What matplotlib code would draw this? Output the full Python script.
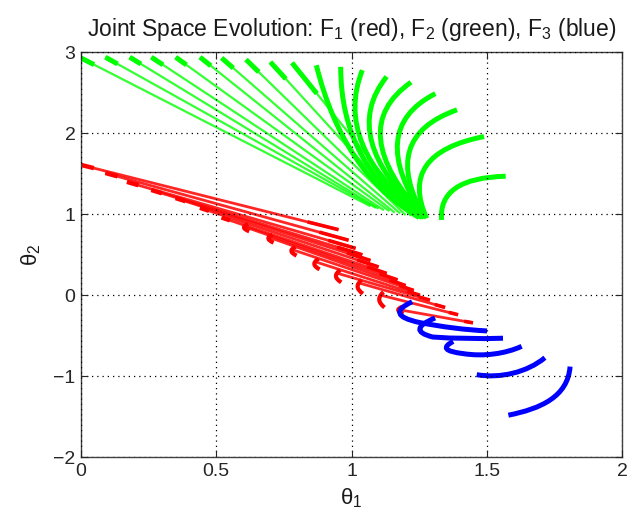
import matplotlib
matplotlib.use("Agg")
import matplotlib.pyplot as plt
from matplotlib.path import Path
from matplotlib.patches import PathPatch

plt.rcParams['font.family'] = ['Liberation Sans', 'DejaVu Sans']
plt.rcParams['mathtext.fontset'] = 'custom'
plt.rcParams['mathtext.rm'] = 'Liberation Sans'
plt.rcParams['mathtext.it'] = 'Liberation Sans:italic'

# ---------------- F2 (green) trajectories ----------------
# start points of every trajectory (top row)
green_start_x = [0.00, 0.09, 0.18, 0.26, 0.35, 0.44, 0.52, 0.61, 0.70, 0.78,
                 0.87, 0.96, 1.04, 1.13, 1.22, 1.31, 1.39, 1.49, 1.57]
green_start_y = [2.93, 2.94, 2.94, 2.94, 2.94, 2.94, 2.93, 2.91, 2.88, 2.87,
                 2.84, 2.82, 2.78, 2.70, 2.63, 2.49, 2.29, 1.96, 1.47]
# end points of the fast (straight) trajectories, first ten starts
green_line_end_x = [1.07, 1.09, 1.10, 1.12, 1.14, 1.16, 1.18, 1.20, 1.22, 1.24]
green_line_end_y = [1.10, 1.08, 1.07, 1.05, 1.04, 1.02, 1.01, 0.99, 0.98, 0.97]
# share of each straight trajectory that is densely sampled
green_dense_share = [0.045, 0.045, 0.045, 0.05, 0.05, 0.055, 0.065, 0.08, 0.11, 0.2]
# curved trajectories (remaining starts): control and end points
green_arc_ctrl_x = [0.97, 0.96, 0.93, 0.95, 0.97, 1.05, 1.10, 1.17, 1.32]
green_arc_ctrl_y = [1.50, 1.60, 1.85, 1.95, 2.05, 2.05, 1.95, 1.75, 1.45]
green_arc_end_x = [1.25, 1.26, 1.265, 1.27, 1.27, 1.27, 1.27, 1.278, 1.333]
green_arc_end_y = [0.96, 0.96, 0.96, 0.96, 0.96, 0.96, 0.96, 0.95, 0.93]

# ---------------- F1 (red) trajectories ----------------
red_start_x = [0.00, 0.09, 0.17, 0.26, 0.35, 0.44, 0.52, 0.61, 0.70, 0.785,
               0.87, 0.95, 1.03, 1.11, 1.18]
red_start_y = [1.61, 1.51, 1.40, 1.30, 1.20, 1.08, 0.96, 0.84, 0.71, 0.56,
               0.41, 0.27, 0.15, 0.00, -0.18]
red_end_x = [0.952, 0.989, 1.015, 1.04, 1.07, 1.10, 1.13, 1.17, 1.20, 1.23,
             1.253, 1.29, 1.346, 1.394, 1.449]
red_end_y = [0.81, 0.68, 0.58, 0.50, 0.43, 0.35, 0.27, 0.19, 0.12, 0.06,
             0.00, -0.06, -0.15, -0.24, -0.34]
# depth of the hook at the start of the later trajectories
red_hook_depth = [0, 0, 0, 0, 0, 0, 0, 0.09, 0.10, 0.11, 0.13, 0.15, 0.17, 0.19, 0.09]

# ---------------- F3 (blue) trajectories ----------------
# each one a chain of Bezier pieces: vertices and path codes
M, C3, C4 = Path.MOVETO, Path.CURVE3, Path.CURVE4
blue_curves = [
    ([(1.224, -0.08), (1.12, -0.24), (1.25, -0.335), (1.38, -0.42), (1.501, -0.44)],
     [M, C3, C3, C3, C3]),
    ([(1.309, -0.28), (1.20, -0.43), (1.30, -0.515), (1.42, -0.545), (1.56, -0.53)],
     [M, C3, C3, C3, C3]),
    ([(1.376, -0.57), (1.31, -0.68), (1.413, -0.72), (1.49, -0.76), (1.57, -0.72), (1.629, -0.63)],
     [M, C3, C3, C4, C4, C4]),
    ([(1.463, -0.98), (1.55, -1.03), (1.65, -0.95), (1.715, -0.77)],
     [M, C4, C4, C4]),
    ([(1.58, -1.48), (1.70, -1.40), (1.80, -1.25), (1.808, -0.88)],
     [M, C4, C4, C4]),
]

RED, GREEN, BLUE = (1.0, 0.0, 0.0), (0.0, 1.0, 0.0), (0.0, 0.0, 1.0)
THICK = 3.6

fig = plt.figure(figsize=(6.31, 5.21), dpi=100)
ax = fig.add_axes([81 / 631, 1 - 457.3 / 521, (622 - 81) / 631, (457.3 - 52.3) / 521])


def curve(verts, codes, color, lw):
    ax.add_patch(PathPatch(Path(verts, codes), fill=False, edgecolor=color,
                           lw=lw, capstyle='butt', joinstyle='round', zorder=2))


def partial(p, q, share):
    return (p[0] + share * (q[0] - p[0]), p[1] + share * (q[1] - p[1]))


# green: straight fast trajectories with a dense start
n_line = len(green_line_end_x)
for j in range(n_line):
    p = (green_start_x[j], green_start_y[j])
    q = (green_line_end_x[j], green_line_end_y[j])
    ax.plot([p[0], q[0]], [p[1], q[1]], color=GREEN, lw=1.6, alpha=0.8,
            solid_capstyle='butt', zorder=2)
    r = partial(p, q, green_dense_share[j])
    ax.plot([p[0], r[0]], [p[1], r[1]], color=GREEN, lw=THICK,
            solid_capstyle='butt', zorder=2)

# green: slow curved trajectories
for i in range(len(green_arc_end_x)):
    j = n_line + i
    curve([(green_start_x[j], green_start_y[j]),
           (green_arc_ctrl_x[i], green_arc_ctrl_y[i]),
           (green_arc_end_x[i], green_arc_end_y[i])],
          [M, C3, C3], GREEN, THICK)

# red: straight trajectories, dense start or hook at the start, dense end
for k in range(len(red_start_x)):
    p = (red_start_x[k], red_start_y[k])
    q = (red_end_x[k], red_end_y[k])
    ax.plot([p[0], q[0]], [p[1], q[1]], color=RED, lw=2.0, alpha=0.85,
            solid_capstyle='butt', zorder=2)
    r = partial(q, p, 0.12)
    ax.plot([r[0], q[0]], [r[1], q[1]], color=RED, lw=2.6,
            solid_capstyle='butt', zorder=2)
    h = red_hook_depth[k]
    if h == 0:
        r = partial(p, q, 0.05)
        ax.plot([p[0], r[0]], [p[1], r[1]], color=RED, lw=3.2,
                solid_capstyle='butt', zorder=2)
    else:
        curve([(p[0] + 0.008, p[1] + 0.04), (p[0] - 0.025, p[1] + 0.04 - h / 2),
               (p[0] + 0.012, p[1] + 0.04 - h)], [M, C3, C3], RED, 3.0)

# blue trajectories
for verts, codes in blue_curves:
    curve(verts, codes, BLUE, THICK)

ax.set_xlim(0, 2)
ax.set_ylim(-2, 3)
ax.set_xticks([0, 0.5, 1, 1.5, 2])
ax.set_xticklabels(['0', '0.5', '1', '1.5', '2'])
ax.set_yticks([-2, -1, 0, 1, 2, 3])
ax.set_yticklabels(['\u22122', '\u22121', '0', '1', '2', '3'])
ax.grid(True, linestyle=(0, (1, 3.2)), color='k', lw=0.9, zorder=5)
ax.set_axisbelow(False)
ax.tick_params(direction='in', top=True, right=True, length=5, width=0.8,
               labelsize=14, colors='0.15', pad=4)
for s in ax.spines.values():
    s.set_color('0.25')
    s.set_linewidth(1.0)

ax.set_title('Joint Space Evolution: F$_1$ (red), F$_2$ (green), F$_3$ (blue)',
             fontsize=16.5, color='0.1', pad=12)
ax.set_xlabel('\u03b8$_1$', fontsize=16, color='0.1', labelpad=5)
ax.set_ylabel('\u03b8$_2$', fontsize=16, color='0.1', labelpad=7)

fig.savefig('out.png', dpi=100)
